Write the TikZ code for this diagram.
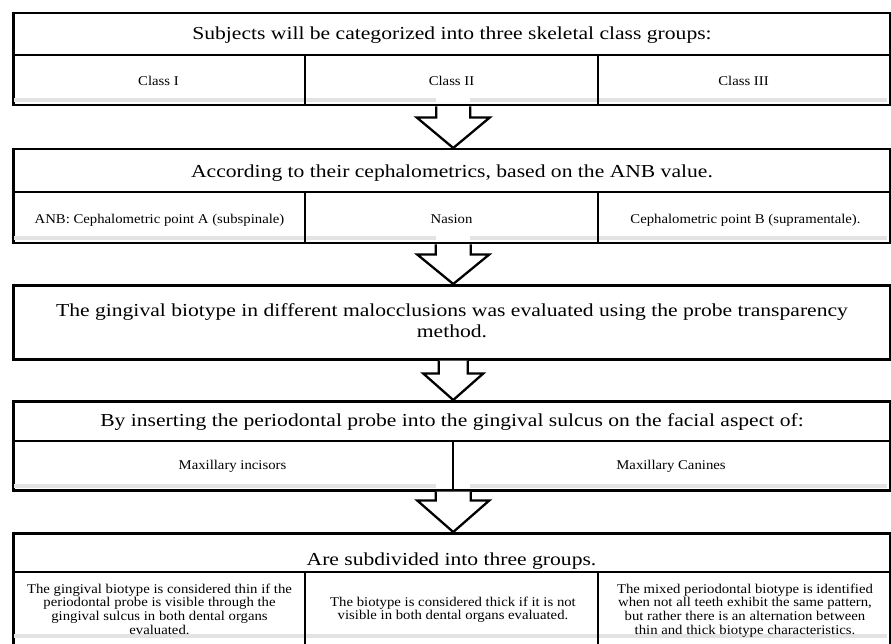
\documentclass[tikz,border=0pt]{standalone}
\usepackage{fontspec}
\setmainfont{Liberation Serif}
\newfontfamily\wfont[FakeStretch=1.18]{Liberation Serif}
\newfontfamily\cfont[FakeStretch=1.1]{Liberation Serif}
\usetikzlibrary{calc}
\tikzset{
  frame/.style={draw=black, line width=2.5pt, fill=white, minimum width=877pt, inner sep=0pt, anchor=north west},
  divline/.style={line width=2.2pt},
  band/.style={fill=black!11, draw=none},
  hd/.style={font=\wfont\fontsize{18.3}{21}\selectfont, inner sep=0pt, anchor=base},
  cell/.style={font=\cfont\fontsize{13.4}{13.9}\selectfont, inner sep=0pt, anchor=base},
  blockarr/.style={draw=black, line width=2.3pt, fill=white, line join=miter},
  rightedge/.style={draw=black!65, line width=2pt},
}
\newcommand{\barrow}[5]{%
  \draw[blockarr] ($(#1.south)+(1.5-#3,0)$) -- ($(#1.south)+(1.5-#3,#4)$)
    -- ($(#1.south)+(1.5-#5,#4)$) -- ($(#2.north)+(1.5,0)$)
    -- ($(#1.south)+(1.5+#5,#4)$) -- ($(#1.south)+(1.5+#3,#4)$)
    -- ($(#1.south)+(1.5+#3,0)$);}
\begin{document}
\begin{tikzpicture}[x=1pt,y=-1pt]
\useasboundingbox (0,0) rectangle (891,644);
\clip (0,0) rectangle (891,644);
% boxes
\node[frame, minimum height=92pt] (b1) at (12,12) {};
\node[frame, minimum height=94pt] (b2) at (12,148) {};
\node[frame, minimum height=74pt] (b3) at (12,284) {};
\node[frame, minimum height=89pt] (b4) at (12,400) {};
\node[frame, minimum height=130pt] (b5) at (12,532) {};
% right edges
\draw[rightedge] (b1.north east) -- (b1.south east);
\draw[rightedge] (b2.north east) -- (b2.south east);
\draw[rightedge] (b3.north east) -- (b3.south east);
\draw[rightedge] (b4.north east) -- (b4.south east);
\draw[rightedge] (b5.north east) -- (b5.south east);
% shadow bands
\fill[band] (14,98.5) rectangle (436,102.5);
\fill[band] (470,98.5) rectangle (887,102.5);
\fill[band] (14,236.5) rectangle (436,240.5);
\fill[band] (470,236.5) rectangle (887,240.5);
\fill[band] (14,483.5) rectangle (436,487.5);
\fill[band] (470,483.5) rectangle (887,487.5);
\fill[band] (14,634) rectangle (887,638);
% arrows
\barrow{b1}{b2}{17}{11}{36.5}
\barrow{b2}{b3}{17.5}{10}{36}
\barrow{b3}{b4}{14.5}{13}{30}
\barrow{b4}{b5}{17.5}{9}{36}
% dividers
\draw[divline] (12,55) -- (889,55);
\draw[divline] (305,55) -- (305,104);
\draw[divline] (598,55) -- (598,104);
\draw[divline] (12,192) -- (889,192);
\draw[divline] (305,192) -- (305,242);
\draw[divline] (598,192) -- (598,242);
\draw[divline] (12,441) -- (889,441);
\draw[divline] (453,441) -- (453,489);
\draw[divline] (12,572) -- (889,572);
\draw[divline] (305,572) -- (305,650);
\draw[divline] (598,572) -- (598,650);
% texts
\node[hd] (t1) at (452,40) {Subjects will be categorized into three skeletal class groups:};
\node[cell] (c11) at (158.5,86) {Class I};
\node[cell] (c12) at (451.5,86) {Class II};
\node[cell] (c13) at (743.5,86) {Class III};
\node[hd] (t2) at (452,178) {According to their cephalometrics, based on the ANB value.};
\node[cell] (c21) at (159.5,224) {ANB: Cephalometric point A (subspinale)};
\node[cell] (c22) at (451.5,224) {Nasion};
\node[cell] (c23) at (745.5,224) {Cephalometric point B (supramentale).};
\node[hd] (t3) at (452,316) {\begin{tabular}[t]{@{}c@{}}The gingival biotype in different malocclusions was evaluated using the probe transparency\\method.\end{tabular}};
\node[hd] (t4) at (452,426) {By inserting the periodontal probe into the gingival sulcus on the facial aspect of:};
\node[cell] (c41) at (232.5,469) {Maxillary incisors};
\node[cell] (c42) at (671,469) {Maxillary Canines};
\node[hd] (t5) at (451.5,565) {Are subdivided into three groups.};
\node[cell] (c51) at (159.5,593) {\begin{tabular}[t]{@{}c@{}}The gingival biotype is considered thin if the\\periodontal probe is visible through the\\gingival sulcus in both dental organs\\evaluated.\end{tabular}};
\node[cell] (c52) at (453,606) {\begin{tabular}[t]{@{}c@{}}The biotype is considered thick if it is not\\visible in both dental organs evaluated.\end{tabular}};
\node[cell] (c53) at (745,593) {\begin{tabular}[t]{@{}c@{}}The mixed periodontal biotype is identified\\when not all teeth exhibit the same pattern,\\but rather there is an alternation between\\thin and thick biotype characteristics.\end{tabular}};
\end{tikzpicture}
\end{document}
